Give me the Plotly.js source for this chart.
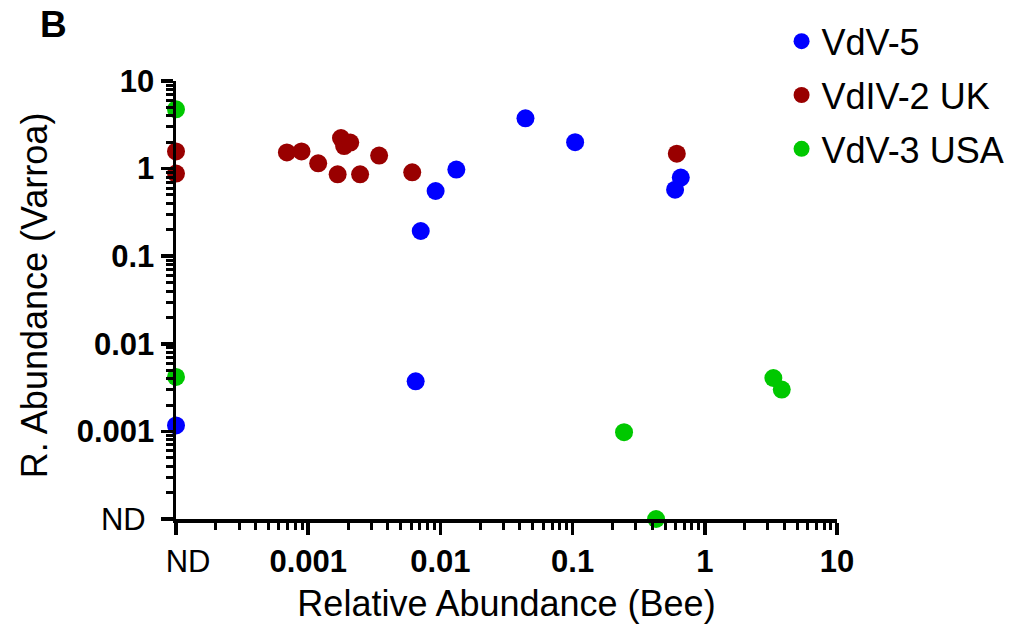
<!DOCTYPE html>
<html>
<head>
<meta charset="utf-8">
<script src="https://cdn.plot.ly/plotly-3.0.1.min.js"></script>
<style>html,body{margin:0;padding:0;background:#fff;}</style>
</head>
<body>
<div id="chart" style="width:1019px;height:628px;"></div>
<script>
// "ND" (not detected) is plotted at the bottom of the log scale
const ND = 1e-4;

const seriesNames = ["VdV-5", "VdIV-2 UK", "VdV-3 USA"];

// VdV-5
const vdv5_bee    = [ND, 0.0065, 0.0071, 0.0092, 0.0132, 0.044, 0.1045, 0.596, 0.658];
const vdv5_varroa = [0.00117, 0.00373, 0.194, 0.555, 0.975, 3.75, 2.0, 0.575, 0.789];

// VdIV-2 UK
const vdiv2_bee    = [ND, ND, 0.00069, 0.00089, 0.00119, 0.00167, 0.00177, 0.00187, 0.00208, 0.00247, 0.00344, 0.00612, 0.614];
const vdiv2_varroa = [1.57, 0.877, 1.53, 1.57, 1.15, 0.86, 2.23, 1.81, 1.98, 0.86, 1.41, 0.908, 1.48];

// VdV-3 USA
const vdv3_bee    = [ND, ND, 0.245, 0.428, 3.3, 3.82];
const vdv3_varroa = [4.75, 0.00418, 0.00098, ND, 0.00407, 0.0030];

const tickVals = [ND, 0.001, 0.01, 0.1, 1, 10];
const xTickText = ["\u2002\u00a0ND", "<b>0.001</b>", "<b>0.01</b>", "<b>0.1</b>", "<b>1</b>", "<b>10</b>"];
const yTickText = ["ND\u00a0", "<b>0.001</b>", "<b>0.01</b>", "<b>0.1</b>", "<b>1</b>", "<b>10</b>"];

const colors = ["#0000ff", "#990000", "#00c800"];
const FONT = "'Liberation Sans', Arial, Helvetica, sans-serif";

const xs = [vdv5_bee, vdiv2_bee, vdv3_bee];
const ys = [vdv5_varroa, vdiv2_varroa, vdv3_varroa];

const traces = seriesNames.map((name, i) => ({
  type: "scatter",
  mode: "markers",
  name: name,
  legendgroup: "g" + i,
  x: xs[i],
  y: ys[i],
  cliponaxis: false,
  marker: { size: 18, color: colors[i], line: { width: 0 } }
}));

function axisBase(ticktext) {
  return {
    type: "log",
    range: [-4, 1],
    automargin: false,
    tickmode: "array",
    tickvals: tickVals,
    ticktext: ticktext,
    ticks: "outside",
    ticklen: 12,
    tickwidth: 3.5,
    tickcolor: "#000",
    showline: true,
    linewidth: 3.5,
    linecolor: "#000",
    showgrid: false,
    zeroline: false,
    tickfont: { family: FONT, size: 31, color: "#000" },
    minor: { dtick: "D1", ticks: "outside", ticklen: 7, tickwidth: 3, tickcolor: "#000", showgrid: false }
  };
}

const xaxis = Object.assign(axisBase(xTickText), {
  title: { text: "Relative Abundance (Bee)", font: { family: FONT, size: 36, color: "#000" }, standoff: 14 }
});
const yaxis = axisBase(yTickText);

const layout = {
  width: 1019,
  height: 628,
  margin: { l: 176, r: 182, t: 81, b: 109, autoexpand: false },
  paper_bgcolor: "#fff",
  plot_bgcolor: "#fff",
  font: { family: FONT, color: "#000" },
  xaxis: xaxis,
  yaxis: yaxis,
  showlegend: true,
  legend: {
    xref: "container", yref: "container",
    x: 0.767, y: 0.982, xanchor: "left", yanchor: "top",
    font: { family: FONT, size: 36, color: "#000" },
    traceorder: "grouped",
    tracegroupgap: 4,
    bgcolor: "rgba(0,0,0,0)"
  },
  annotations: [
    {
      text: "R. Abundance (Varroa)", textangle: -90,
      xref: "paper", yref: "paper", x: -0.214, y: 0.51,
      xanchor: "center", yanchor: "middle", showarrow: false,
      font: { family: FONT, size: 36, color: "#000" }
    },
    {
      text: "<b>B</b>",
      xref: "paper", yref: "paper", x: -0.186, y: 1.13,
      xanchor: "center", yanchor: "middle", showarrow: false,
      font: { family: FONT, size: 37, color: "#000" }
    }
  ]
};

Plotly.newPlot("chart", traces, layout, { displayModeBar: false, staticPlot: true });
</script>
</body>
</html>
